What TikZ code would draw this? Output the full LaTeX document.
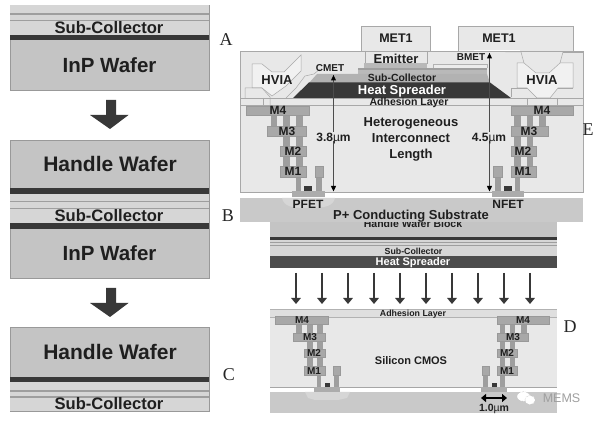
\documentclass[tikz,border=0pt]{standalone}
\usepackage{fontspec}
\setmainfont{Liberation Sans}
\newfontfamily\lettfont{Liberation Serif}
\usetikzlibrary{arrows.meta}
\definecolor{wafer}{gray}{0.77}
\definecolor{band}{gray}{0.84}
\definecolor{bandline}{gray}{0.62}
\definecolor{darkl}{gray}{0.22}
\definecolor{devbg}{gray}{0.91}
\definecolor{metal}{gray}{0.66}
\definecolor{via}{gray}{0.62}
\definecolor{subst}{gray}{0.79}
\definecolor{outl}{gray}{0.6}
\definecolor{devedge}{gray}{0.66}
\tikzset{
  lab/.style={font=\bfseries\fontsize{#1}{#1}\selectfont,inner sep=0pt,text height=#1*0.72pt,text depth=0pt,text=black!88},
  whitelab/.style={lab=#1,text=white},
  letter/.style={font=\lettfont\fontsize{18}{18}\selectfont,inner sep=0pt,text=black!85},
  waferbox/.style={fill=wafer,draw=outl,line width=0.6pt},
  bandfill/.style={fill=band,draw=none},
  bandrule/.style={fill=bandline,draw=none},
  darkfill/.style={fill=darkl,draw=none},
  metalbar/.style={fill=metal,draw=gray!80,line width=0.3pt},
  viafill/.style={fill=via,draw=none},
  bigarrow/.style={fill=darkl,draw=none},
  thinarrow/.style={draw=darkl,line width=1.8pt,-{Triangle[length=6pt,width=9.5pt]}},
  dimline/.style={draw=black!70,line width=0.5pt},
  dimtip/.style={fill=black,draw=none},
  devline/.style={draw=devedge,line width=0.5pt},
  hvshape/.style={draw=devedge,line width=0.5pt,fill=devbg!60!white}
}
\begin{document}
\begin{tikzpicture}[x=1pt,y=-1pt]
\useasboundingbox (0,0) rectangle (598,422);
\fill[white] (0,0) rectangle (598,422);

%% LEFT COLUMN: wafer A
\draw[waferbox] (10,5) rectangle (209,90);
\fill[bandfill] (10,5) rectangle (209,35);
\fill[bandrule] (10,13) rectangle (209,15);
\fill[bandrule] (10,20) rectangle (209,21.2);
\fill[darkfill] (10,35) rectangle (209,40);
\node[lab=16.6] (a-sub) at (109,28) {Sub-Collector};
\node[lab=20.5] (a-inp) at (109.5,65) {InP Wafer};
\node[letter] (lett-a) at (226,40) {A};
\fill[bigarrow] (106,100) -- (116,100) -- (116,115) -- (128.5,115) -- (110,129) -- (90,115) -- (106,115) -- cycle;

%% wafer B
\draw[waferbox] (10,140) rectangle (209,278);
\fill[bandfill] (10,194) rectangle (209,223);
\fill[bandrule] (10,201) rectangle (209,202.5);
\fill[bandrule] (10,208) rectangle (209,209.2);
\fill[darkfill] (10,188) rectangle (209,194);
\fill[darkfill] (10,223.5) rectangle (209,229);
\node[lab=21] (b-han) at (110,164) {Handle Wafer};
\node[lab=16.6] (b-sub) at (109,216) {Sub-Collector};
\node[lab=20.5] (b-inp) at (109.5,253) {InP Wafer};
\node[letter] (lett-b) at (228,216) {B};
\fill[bigarrow] (106,288) -- (116,288) -- (116,303) -- (128.5,303) -- (110,317) -- (90,303) -- (106,303) -- cycle;

%% wafer C
\draw[waferbox] (10,327) rectangle (209,411);
\fill[bandfill] (10,382) rectangle (209,411);
\fill[bandrule] (10,390) rectangle (209,392);
\fill[bandrule] (10,396.5) rectangle (209,398);
\fill[darkfill] (10,377) rectangle (209,382);
\node[lab=21] (c-han) at (110,352) {Handle Wafer};
\node[lab=16.6] (c-sub) at (109,404) {Sub-Collector};
\node[letter] (lett-c) at (229,375) {C};

%% TOP DEVICE
% handle block below the substrate
\fill[wafer] (270,215) rectangle (557,268);
\fill[band] (270,240) rectangle (557,256);
\fill[darkl] (270,237) rectangle (557,240);
\fill[bandline] (270,242.5) rectangle (557,243.5);
\fill[bandline] (270,245) rectangle (557,246);
\fill[darkl!90] (270,256) rectangle (557,268);
\node[lab=10.5] (hblock) at (413,224) {Handle Wafer Block};
\node[lab=8.8] (hsub) at (413.5,251) {Sub-Collector};
\node[whitelab=11] (hheat) at (413,262) {Heat Spreader};

% body
\fill[devbg] (240,51) rectangle (583,192);
\draw[devedge,line width=0.4pt] (240,51) rectangle (583,192);
\fill[white] (240,192) rectangle (583,198);
\fill[subst] (240,198) rectangle (583,222);
\fill[band] (282,198) .. controls (284,206) and (290,208) .. (308,208) .. controls (326,208) and (333,206) .. (335,198) -- cycle;
\draw[gray!70,line width=0.6pt] (240,192) -- (583,192);
\draw[devline] (240,98) -- (583,98);
\draw[devline] (240,105) -- (583,105);

% MET1 and emitter
\fill[devbg] (361,26) rectangle (430,51);
\draw[devedge,line width=0.5pt] (361,51) -- (361,26) -- (430,26) -- (430,51);
\draw[devedge,line width=0.5pt] (365,51) -- (365,64);
\draw[devedge,line width=0.5pt] (427,51) -- (427,64);
\draw[devedge,line width=0.5pt,fill=devbg] (458,51) -- (458,26) -- (573,26) -- (573,51);
\draw[white,line width=1pt] (459,51) -- (520,51);
\draw[devline] (458,51) -- (521,52);
\draw[devline] (563,52) -- (583,52);

% mesa layers
\fill[gray!55] (358,68) rectangle (487,74);
\fill[gray!75] (358,68) rectangle (487,70);
\fill[gray!55] (364,63) rectangle (427,68);
\draw[gray!60,line width=0.4pt,fill=gray!15] (433,68) -- (433,64) -- (487,64) -- (487,68);
\fill[gray!60] (317,74) -- (487,74) -- (490,83) -- (309,83) -- cycle;
\fill[darkl] (309,82.5) -- (490,82.5) -- (511,98) -- (293,98) -- cycle;
\node[lab=10.4] (subc) at (402,78) {Sub-Collector};
\node[whitelab=13] (heat) at (402,90) {Heat Spreader};
\node[lab=10.5] (adh) at (409,102) {Adhesion Layer};

% HVIA left
\draw[hvshape] (252,64) -- (262,64) -- (272,72) -- (284,72) -- (301,55) -- (301,71) -- (286,86) -- (272,96) -- (262,88) -- (252,88) -- cycle;
\draw[devline] (245,98) -- (245,88) -- (262,88) -- (270,97) -- (270,105);
\draw[devline] (286,98) -- (296,88) -- (305,76) -- (314,74) -- (320,69);
\draw[devline] (263,98) -- (263,105);
% HVIA right
\draw[hvshape] (517,63) -- (524,63) -- (536,73) -- (549,73) -- (560,63) -- (573,63) -- (573,88) -- (558,88) -- (550,98) -- (537,98) -- (527,88) -- (517,88) -- cycle;
\draw[devline] (521,52) -- (524,63);
\draw[devline] (563,52) -- (560,63);
\draw[devline] (511,97) -- (511,88) -- (527,88);
\draw[devline] (558,88) -- (573,88);
\draw[devline] (527,98) -- (527,105);
\draw[devline] (557,98) -- (557,105);
\node[lab=13] (hvl) at (277,80) {HVIA};
\node[lab=13] (hvr) at (542,80) {HVIA};

% top texts
\node[lab=12.5] (m1a) at (396,38) {MET1};
\node[lab=12.5] (m1b) at (499,38) {MET1};
\node[lab=13] (emit) at (396,59) {Emitter};
\node[lab=10] (bmet) at (471,57) {BMET};
\node[lab=10] (cmet) at (330,68) {CMET};

% left metal stack
\foreach \a/\b/\c/\d in {271/115/277/126,283/115/290/126,296/115/303/126,283/136/290/146,296/136/303/146,283/156/290/166,296/156/303/166,296/177/301/192,316/177/322/192}
  \fill[viafill] (\a,\b) rectangle (\c,\d);
\draw[metalbar] (246,106) rectangle (309,115);
\draw[metalbar] (267,126) rectangle (306,136);
\draw[metalbar] (280,146) rectangle (306,156);
\draw[metalbar] (280,166) rectangle (306,177);
\draw[metalbar] (315,166) rectangle (323,177);
\fill[darkl] (304,186) rectangle (312,192);
\fill[gray!65] (292,191) rectangle (325,197);
\node[lab=12] (lm4) at (278,110.5) {M4};
\node[lab=12] (lm3) at (287,131) {M3};
\node[lab=12] (lm2) at (293,151) {M2};
\node[lab=12] (lm1) at (293,171.5) {M1};

% right metal stack
\foreach \a/\b/\c/\d in {539/115/546/126,527/115/533/126,514/115/521/126,527/136/533/146,514/136/521/146,527/156/533/166,514/156/521/166,515/177/520/192,495/177/501/192}
  \fill[viafill] (\a,\b) rectangle (\c,\d);
\draw[metalbar] (511,106) rectangle (573,115);
\draw[metalbar] (511,126) rectangle (548,136);
\draw[metalbar] (511,146) rectangle (536,156);
\draw[metalbar] (511,166) rectangle (536,177);
\draw[metalbar] (493,166) rectangle (502,177);
\fill[darkl] (504,186) rectangle (512,192);
\fill[gray!65] (492,191) rectangle (524,197);
\node[lab=12] (rm4) at (542,110.5) {M4};
\node[lab=12] (rm3) at (529,131) {M3};
\node[lab=12] (rm2) at (523,151) {M2};
\node[lab=12] (rm1) at (523,171.5) {M1};

% dimensions
\coordinate (dl-t) at (333.5,75);
\coordinate (dl-b) at (333.5,191.5);
\coordinate (dr-t) at (489.5,53);
\coordinate (dr-b) at (489.5,191.5);
\draw[dimline] (dl-t) -- (dl-b);
\draw[dimline] (dr-t) -- (dr-b);
\fill[dimtip] (dl-t) -- ++(2.6,5.5) -- ++(-5.2,0) -- cycle;
\fill[dimtip] (dr-t) -- ++(2.6,5.5) -- ++(-5.2,0) -- cycle;
\fill[dimtip] (dl-b) -- ++(2.6,-5.5) -- ++(-5.2,0) -- cycle;
\fill[dimtip] (dr-b) -- ++(2.6,-5.5) -- ++(-5.2,0) -- cycle;
\node[lab=12,fill=devbg,text height=9pt] (d38) at (333.5,137) {3.8{\mdseries µ}m};
\node[lab=12,fill=devbg,text height=9pt] (d45) at (489,137) {4.5{\mdseries µ}m};

\node[lab=13] (het1) at (411,122) {Heterogeneous};
\node[lab=13] (het2) at (411,138) {Interconnect};
\node[lab=13] (het3) at (411,154) {Length};
\node[lab=12] (pfet) at (308,204) {PFET};
\node[lab=12] (nfet) at (508,204) {NFET};
\node[lab=13] (pcs) at (411,214.5) {P+ Conducting Substrate};
\node[letter] (lett-e) at (588,130) {E};

%% arrows between device parts
\foreach \x [count=\i] in {296,322,348,374,400,426,452,478,504,530}{
  \coordinate (t\i) at (\x,273);
  \coordinate (h\i) at (\x,304);
  \draw[thinarrow] (t\i) -- (h\i);
}

%% BOTTOM DEVICE
\fill[devbg] (270,309) rectangle (557,387);
\fill[gray!25] (270,309) rectangle (557,317);
\draw[gray!60,line width=0.5pt] (270,317) -- (557,317);
\draw[gray!60,line width=0.5pt] (270,309) -- (557,309);
\fill[white] (270,387) rectangle (557,392);
\draw[gray!70,line width=0.6pt] (270,387) -- (557,387);
\fill[subst] (270,392) rectangle (557,413);
\fill[band] (305,392) -- (350,392) -- (347,398) -- (338,400) -- (315,400) -- (308,398) -- cycle;
\node[lab=8.8] (adh2) at (413,313) {Adhesion Layer};
\node[lab=11] (cmos) at (411,361) {Silicon CMOS};

\foreach \a/\b/\c/\d in {296/324/302/333,307/324/313/333,317/324/323/333,307/341/313/349,317/341/323/349,307/357/313/366,317/357/323/366,317/375/321/388,334/375/339/388}
  \fill[viafill] (\a,\b) rectangle (\c,\d);
\draw[metalbar] (275,316) rectangle (328,324);
\draw[metalbar] (293,333) rectangle (325,341);
\draw[metalbar] (304,349) rectangle (325,357);
\draw[metalbar] (304,366) rectangle (325,375);
\draw[metalbar] (333,366) rectangle (340,375);
\fill[darkl] (325,383) rectangle (330,388);
\fill[gray!65] (314,387) rectangle (340,392);
\node[lab=10] (blm4) at (302,320) {M4};
\node[lab=10] (blm3) at (310,337) {M3};
\node[lab=10] (blm2) at (314,353) {M2};
\node[lab=10] (blm1) at (314,371) {M1};

\foreach \a/\b/\c/\d in {521/324/527/333,510/324/515/333,500/324/505/333,510/341/515/349,500/341/505/349,510/357/515/366,500/357/505/366,500/375/505/388,483/375/488/388}
  \fill[viafill] (\a,\b) rectangle (\c,\d);
\draw[metalbar] (497,316) rectangle (549,324);
\draw[metalbar] (497,333) rectangle (528,341);
\draw[metalbar] (497,349) rectangle (517,357);
\draw[metalbar] (497,366) rectangle (517,375);
\draw[metalbar] (482,366) rectangle (489,375);
\fill[darkl] (492,383) rectangle (497,388);
\fill[gray!65] (481,387) rectangle (507,392);
\node[lab=10] (brm4) at (523,320) {M4};
\node[lab=10] (brm3) at (513,337) {M3};
\node[lab=10] (brm2) at (507,353) {M2};
\node[lab=10] (brm1) at (507,371) {M1};

\coordinate (w-l) at (481,398);
\coordinate (w-r) at (507,398);
\draw[black,line width=1.9pt,{Triangle[length=5pt,width=8pt]}-{Triangle[length=5pt,width=8pt]}] (w-l) -- (w-r);
\node[lab=10.5] (d10) at (494,408) {1.0{\mdseries µ}m};
\node[letter] (lett-d) at (570,327) {D};

% watermark
\fill[white,draw=gray!60,line width=0.4pt,densely dotted] (523.5,396.5) ellipse (6.5 and 4.8);
\fill[white,draw=gray!60,line width=0.4pt,densely dotted] (530,400) ellipse (5.2 and 4.6);
\node[font=\fontsize{12.5}{12.5}\selectfont,inner sep=0pt,text=gray!75] (wm) at (561.5,398.5) {MEMS};
\end{tikzpicture}
\end{document}
